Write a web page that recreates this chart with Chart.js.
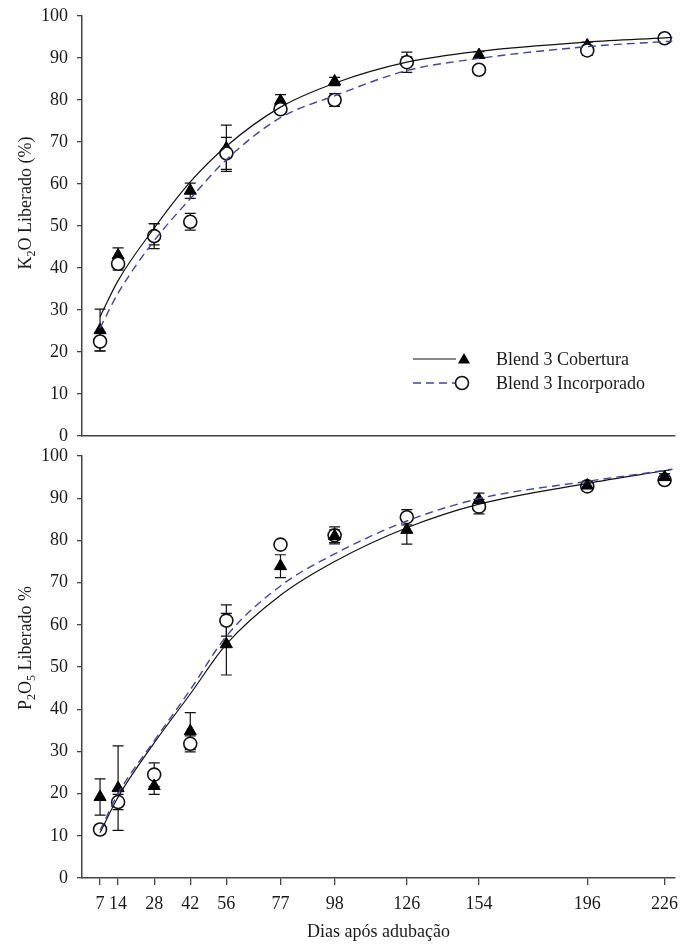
<!DOCTYPE html>
<html><head><meta charset="utf-8">
<script src="https://cdn.jsdelivr.net/npm/chart.js@4.4.1/dist/chart.umd.min.js"></script>
<style>
html,body{margin:0;padding:0;background:#fff;}
canvas{position:absolute;left:0;}
#c1{top:0}
#c2{top:445px}
</style></head><body>
<canvas id="c1" width="683" height="445"></canvas>
<canvas id="c2" width="683" height="499"></canvas>
<script>
// ---------- data ----------
const days = [7, 14, 28, 42, 56, 77, 98, 126, 154, 196, 226];
const tickDays = [7, 14, 28, 42, 56, 77, 98, 126, 154, 196, 226];
const fitDays = [7, 14, 28, 42, 56, 77, 98, 126, 154, 196, 226, 229];
const seriesNames = ['Blend 3 Cobertura', 'Blend 3 Incorporado'];
const xTitle = 'Dias após adubação';

// K2O panel
const k2oCobertura      = [25.2, 43.0, 48.0, 58.4, 68.5, 79.8, 84.4, 89.3, 90.7, 93.0, 94.6];
const k2oCoberturaErr   = [5.0, 1.8, 2.5, 1.8, 5.5, 1.5, 1.0, 1.0, 0.8, 0.8, 0.8];
const k2oIncorporado    = [22.5, 41.0, 47.6, 51.0, 67.3, 77.8, 80.0, 89.0, 87.2, 91.8, 94.7];
const k2oIncorporadoErr = [2.2, 1.5, 3.0, 2.0, 3.8, 1.0, 1.5, 2.4, 0.5, 1.2, 1.0];
const k2oCoberturaFit   = [28.4, 37.0, 49.5, 60.5, 69.0, 78.3, 84.0, 89.0, 91.6, 93.8, 94.8, 94.9];
const k2oIncorporadoFit = [25.7, 34.0, 46.5, 56.5, 65.8, 75.8, 81.0, 87.0, 89.9, 92.7, 93.9, 94.0];

// P2O5 panel
const p2o5Cobertura      = [19.2, 21.3, 21.8, 34.8, 55.4, 73.9, 81.0, 82.5, 89.6, 93.0, 95.0];
const p2o5CoberturaErr   = [4.3, 10.0, 2.0, 4.4, 7.3, 2.7, 1.5, 3.4, 1.6, 1.0, 0.8];
const p2o5Incorporado    = [11.5, 18.0, 24.5, 31.8, 61.0, 79.0, 81.2, 85.5, 88.0, 92.8, 94.3];
const p2o5IncorporadoErr = [1.0, 1.8, 2.8, 1.9, 3.7, 0.8, 2.0, 1.8, 1.7, 1.0, 0.8];
const p2o5CoberturaFit   = [10.7, 19.2, 32.0, 43.6, 55.4, 67.0, 75.0, 83.0, 88.6, 93.5, 96.5, 96.8];
const p2o5IncorporadoFit = [11.3, 20.0, 32.5, 44.6, 57.3, 69.2, 76.8, 84.6, 89.9, 94.0, 96.6, 96.9];

// ---------- styling ----------
const FONT = '"Liberation Serif", "Times New Roman", serif';
const AXIS = '#444';
const TEXT = '#1a1a1a';
const DASH_COLOR = '#44449a';
const MARK_R = 7;

const pts = (xs, ys) => xs.map((x, i) => ({x, y: ys[i]}));

const errorBars = {
  id: 'errorBars',
  beforeDatasetsDraw(chart) {
    const {ctx, scales: {x, y}} = chart;
    ctx.save();
    ctx.strokeStyle = '#111';
    ctx.lineWidth = 1.2;
    chart.data.datasets.forEach(ds => {
      if (!ds.errors) return;
      ds.data.forEach((p, i) => {
        const e = ds.errors[i];
        if (!e) return;
        const px = x.getPixelForValue(p.x);
        const yt = y.getPixelForValue(p.y + e);
        const yb = y.getPixelForValue(p.y - e);
        ctx.beginPath();
        ctx.moveTo(px, yt); ctx.lineTo(px, yb);
        ctx.moveTo(px - 5.5, yt); ctx.lineTo(px + 5.5, yt);
        ctx.moveTo(px - 5.5, yb); ctx.lineTo(px + 5.5, yb);
        ctx.stroke();
      });
    });
    ctx.restore();
  }
};

const yTitle = {
  id: 'yTitle',
  afterDraw(chart, args, opts) {
    if (!opts.parts) return;
    const ctx = chart.ctx;
    ctx.save();
    const big = '18px ' + FONT, small = '12px ' + FONT;
    let w = 0;
    opts.parts.forEach(p => { ctx.font = p.sub ? small : big; w += ctx.measureText(p.t).width; });
    ctx.translate(opts.x, opts.y);
    ctx.rotate(-Math.PI / 2);
    ctx.fillStyle = TEXT;
    ctx.textBaseline = 'alphabetic';
    ctx.textAlign = 'left';
    let cx = -w / 2;
    opts.parts.forEach(p => {
      ctx.font = p.sub ? small : big;
      ctx.fillText(p.t, cx, p.sub ? 4 : 0);
      cx += ctx.measureText(p.t).width;
    });
    ctx.restore();
  }
};

const legendBox = {
  id: 'legendBox',
  afterDraw(chart, args, opts) {
    if (!opts.show) return;
    const ctx = chart.ctx;
    ctx.save();
    // row 1: solid + triangle
    ctx.strokeStyle = '#111'; ctx.lineWidth = 1.2;
    ctx.beginPath(); ctx.moveTo(413, 359); ctx.lineTo(456, 359); ctx.stroke();
    ctx.fillStyle = '#000';
    ctx.beginPath();
    const r = MARK_R, cx = 464, cy = 360;
    ctx.moveTo(cx, cy - r);
    ctx.lineTo(cx + r * Math.sin(2 * Math.PI / 3), cy - r * Math.cos(2 * Math.PI / 3));
    ctx.lineTo(cx + r * Math.sin(4 * Math.PI / 3), cy - r * Math.cos(4 * Math.PI / 3));
    ctx.closePath(); ctx.fill();
    // row 2: dashed + circle
    ctx.strokeStyle = DASH_COLOR; ctx.lineWidth = 1.4;
    ctx.setLineDash([8, 5]);
    ctx.beginPath(); ctx.moveTo(413, 383); ctx.lineTo(455, 383); ctx.stroke();
    ctx.setLineDash([]);
    ctx.strokeStyle = '#111'; ctx.lineWidth = 1.6; ctx.fillStyle = '#fff';
    ctx.beginPath(); ctx.arc(462, 383, MARK_R - 0.5, 0, Math.PI * 2); ctx.fill(); ctx.stroke();
    ctx.fillStyle = TEXT;
    ctx.font = '18px ' + FONT;
    ctx.textBaseline = 'middle';
    ctx.fillText(seriesNames[0], 496, 360);
    ctx.fillText(seriesNames[1], 496, 384);
    ctx.restore();
  }
};

function makeChart(canvasId, cfg) {
  const triangles = {
    label: seriesNames[0], data: pts(days, cfg.cob), errors: cfg.cobErr,
    showLine: false, pointStyle: 'triangle', pointRadius: MARK_R,
    pointBackgroundColor: '#000', pointBorderColor: '#000', pointBorderWidth: 1,
    order: cfg.triOrder
  };
  const circles = {
    label: seriesNames[1], data: pts(days, cfg.inc), errors: cfg.incErr,
    showLine: false, pointStyle: 'circle', pointRadius: MARK_R - 0.5,
    pointBackgroundColor: '#fff', pointBorderColor: '#111', pointBorderWidth: 1.6,
    order: cfg.circOrder
  };
  const fitSolid = {
    label: seriesNames[0] + ' ajuste', data: pts(fitDays, cfg.cobFit),
    showLine: true, pointRadius: 0, borderColor: '#111', borderWidth: 1.2,
    cubicInterpolationMode: 'monotone', order: 1
  };
  const fitDash = {
    label: seriesNames[1] + ' ajuste', data: pts(fitDays, cfg.incFit),
    showLine: true, pointRadius: 0, borderColor: DASH_COLOR, borderWidth: 1.4,
    borderDash: [8, 5], cubicInterpolationMode: 'monotone', order: 0
  };
  return new Chart(document.getElementById(canvasId), {
    type: 'scatter',
    data: {datasets: [triangles, circles, fitSolid, fitDash]},
    options: {
      responsive: false, animation: false, devicePixelRatio: 1,
      layout: {padding: {top: cfg.padTop, right: 7, left: 0, bottom: 0}},
      plugins: {
        legend: {display: false}, tooltip: {enabled: false},
        yTitle: {parts: cfg.titleParts, x: 31, y: 203},
        legendBox: {show: cfg.legend}
      },
      scales: {
        x: {
          type: 'linear', min: 0, max: 230, position: 'bottom',
          afterBuildTicks: s => { s.ticks = tickDays.map(v => ({value: v})); },
          afterFit: s => { s.height = cfg.xHeight; s.paddingLeft = 0; s.paddingRight = 0; },
          border: {display: true, color: AXIS, width: 1.5},
          grid: {display: cfg.xLabels, drawOnChartArea: false, drawTicks: true, tickLength: 7, color: AXIS, lineWidth: 1.3},
          ticks: {display: cfg.xLabels, color: TEXT, font: {family: FONT, size: 18}, padding: 8, maxRotation: 0, autoSkip: false},
          title: {display: cfg.xLabels, text: xTitle, color: TEXT, font: {family: FONT, size: 18}, padding: {top: 0, bottom: 1}}
        },
        y: {
          min: 0, max: 100,
          ticks: {stepSize: 10, color: TEXT, font: {family: FONT, size: 18}, padding: 9},
          afterFit: s => { s.width = 82; s.paddingTop = 0; s.paddingBottom = 0; },
          border: {display: true, color: AXIS, width: 1.5},
          grid: {drawOnChartArea: false, drawTicks: true, tickLength: 5, color: AXIS, lineWidth: 1.3}
        }
      }
    },
    plugins: [errorBars, yTitle, legendBox]
  });
}

makeChart('c1', {
  cob: k2oCobertura, cobErr: k2oCoberturaErr, inc: k2oIncorporado, incErr: k2oIncorporadoErr,
  cobFit: k2oCoberturaFit, incFit: k2oIncorporadoFit,
  triOrder: 4, circOrder: 3, padTop: 16, xHeight: 9, xLabels: false, legend: true,
  titleParts: [{t: 'K'}, {t: '2', sub: true}, {t: 'O Liberado (%)'}]
});
makeChart('c2', {
  cob: p2o5Cobertura, cobErr: p2o5CoberturaErr, inc: p2o5Incorporado, incErr: p2o5IncorporadoErr,
  cobFit: p2o5CoberturaFit, incFit: p2o5IncorporadoFit,
  triOrder: 3, circOrder: 4, padTop: 11, xHeight: 66, xLabels: true, legend: false,
  titleParts: [{t: 'P'}, {t: '2', sub: true}, {t: 'O'}, {t: '5', sub: true}, {t: ' Liberado %'}]
});
</script>
</body></html>
